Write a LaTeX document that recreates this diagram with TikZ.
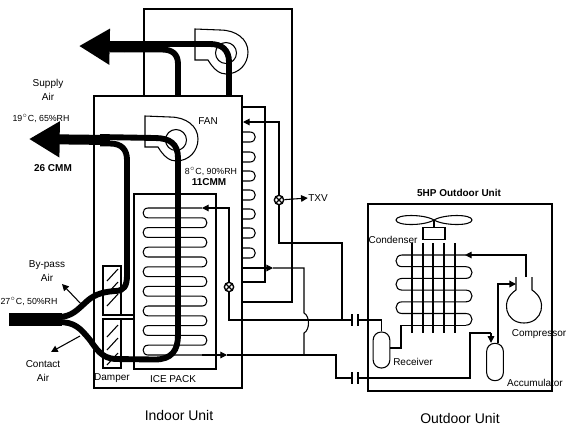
\documentclass[tikz,border=0pt]{standalone}
\usepackage{fontspec}
\setmainfont{Liberation Sans}
\usepackage{tikz}
\usetikzlibrary{arrows.meta}

\begin{document}
\begin{tikzpicture}[
  x=0.75pt, y=-0.75pt,
  line width=0.8pt,
  txt/.style={font=\fontsize{7.5}{10}\selectfont, inner sep=0pt, align=center},
  state/.style={font=\fontsize{6.6}{8}\selectfont, inner sep=0pt},
  strong/.style={font=\fontsize{7.5}{10}\bfseries\selectfont, inner sep=0pt, align=center},
  unit/.style={font=\fontsize{10.5}{12}\selectfont, inner sep=0pt},
  duct/.style={line width=4.4pt},
  mainduct/.style={line width=7.5pt, -{Triangle[length=23pt,width=25.5pt]}},
  flow/.style={-{Triangle[length=5pt,width=5pt]}},
  valve/.style={circle, draw, fill=white, inner sep=0pt, minimum size=7pt, line width=1pt,
    path picture={\draw (path picture bounding box.north west) -- (path picture bounding box.south east)
      (path picture bounding box.north east) -- (path picture bounding box.south west);}},
  tank/.style={draw, rounded corners=6pt, inner sep=0pt, minimum width=12.5pt},
  coupler/.style={inner sep=0pt, outer sep=0pt, minimum width=4.5pt, minimum height=9pt},
  fan/.pic={
    \draw (-31,-24) -- (-31,7) -- (-18,7) .. controls (-12,17) and (-6,21) .. (0,21)
      .. controls (13,21) and (22,11) .. (22,-1) .. controls (22,-14) and (10,-23) .. (-6,-23) -- cycle;
    \draw (0,0) circle (10.5);
  }
]
\useasboundingbox (0,0) rectangle (566,426);

% Housings
\draw (144,96) -- (144,9) -- (292,9) -- (292,302) -- (242,302);
\draw (94,96) rectangle (242,388);
\draw (243,107) -- (265,107) -- (265,282) -- (243,282);
\draw (134,194) rectangle (216,369);
\draw (368,204) rectangle (552,391);

% Dampers
\draw (103,266) rectangle (121,315);
\draw (103,319) rectangle (121,368);
\draw (121,315) -- (134,315);
\draw (121,319) -- (134,319);
\foreach \hy in {281,294,306,337,350,365} {
  \draw (107,\hy) -- (118,\hy-12);
}

% Fans
\pic at (226,53) {fan};
\pic at (176,140) {fan};

% Valves and tanks
\node[valve] (V1) at (279,200) {};
\node[valve] (V2) at (229,287) {};
\node[tank, minimum height=27pt] (Receiver) at (381.5,350) {};
\node[tank, minimum height=28pt] (Accumulator) at (495,362) {};
\node[coupler] (F1) at (355,320) {};
\node[coupler] (F2) at (355,378) {};
\draw (F1.north west) -- (F1.south west);
\draw (F1.north east) -- (F1.south east);
\draw (F2.north west) -- (F2.south west);
\draw (F2.north east) -- (F2.south east);

% Coil on the side of the indoor unit
\foreach \cy in {132,152,171,190,209,228,248} {
  \draw (243,\cy) -- (250,\cy) .. controls (257,\cy) and (257,\cy+10) .. (250,\cy+10) -- (243,\cy+10);
}
\coordinate (SideIn) at (243,122);
\coordinate (SideOut) at (243,268);

% Ice pack coil
\foreach \r in {0,...,7} {
  \draw (202,208+19.6*\r) -- (148,208+19.6*\r) .. controls (141.5,208+19.6*\r) and (141.5,217.8+19.6*\r) .. (148,217.8+19.6*\r) -- (202,217.8+19.6*\r);
}
\foreach \r in {0,...,6} {
  \draw (202,217.8+19.6*\r) .. controls (208.5,217.8+19.6*\r) and (208.5,227.6+19.6*\r) .. (202,227.6+19.6*\r);
}
\coordinate (IceIn) at (202,208);
\coordinate (IceOut) at (202,355);

% Outdoor fan
\draw (434,220) .. controls (424,214) and (396,214) .. (396,220) .. controls (396,226) and (424,226) .. (434,220);
\draw (434,220) .. controls (444,214) and (472,214) .. (472,220) .. controls (472,226) and (444,226) .. (434,220);
\node[draw, inner sep=0pt, minimum width=16.5pt, minimum height=9.5pt] (Motor) at (434,233.5) {};
\draw (434,220) -- (Motor.north);

% Condenser
\foreach \gx in {412,423,433,444,455} {
  \draw (\gx,243) -- (\gx,333);
}
\foreach \r in {0,1,2} {
  \draw (466,255+23.4*\r) -- (402,255+23.4*\r) .. controls (394,255+23.4*\r) and (394,266.7+23.4*\r) .. (402,266.7+23.4*\r) -- (466,266.7+23.4*\r)
    .. controls (474,266.7+23.4*\r) and (474,278.4+23.4*\r) .. (466,278.4+23.4*\r);
}
\coordinate (CondIn) at (465,255);
\coordinate (CondOut) at (466,325.2);

% Compressor
\draw (516,277) -- (516,290) .. controls (500,300) and (505,323) .. (524,323)
  .. controls (543,323) and (548,300) .. (532,290) -- (532,277);
\coordinate (CompOut) at (526,277);
\coordinate (CompIn) at (516,284);

% Refrigerant piping, indoor side
\draw[flow] (V1) |- (SideIn);
\draw (V1) |- (342,243) -- (342,320);
\draw[flow] (SideOut) -- (273,268);
\draw (273,268) -- (304,268) -- (304,313) .. controls (310,316) and (310,330) .. (304,333) -- (304,355);
\draw[flow] (V2) |- (IceIn);
\draw (V2) |- (F1.west);
\draw[flow] (IceOut) -- (227,355);
\draw (227,355) -- (336,355) |- (F2.west);

% Refrigerant piping, outdoor side
\draw (F1.east) -| (Receiver.north);
\draw (Receiver.east |- 0,348) -- (401,348) -- (401,325.2) -- (CondOut);
\draw[flow] (CompOut) |- (CondIn);
\draw (F2.east) -- (470,378) -- (470,333) -- (491,333);
\draw[flow] (491,333) -- (Accumulator.north -| 491,0);
\draw[flow, line width=1pt] (Accumulator.north -| 498,0) |- (CompIn);

% TXV pointer
\node[txt] (TXV) at (318,198) {TXV};
\draw[flow] (V1) -- (TXV.west);

% Air arrows
\coordinate (ByPassTip) at (62,284);
\coordinate (ByPassEnd) at (82,305);
\coordinate (ContactTip) at (51,352);
\coordinate (ContactEnd) at (80,336);
\draw[flow] (ByPassEnd) -- (ByPassTip);
\draw[flow] (ContactEnd) -- (ContactTip);

% Air ducts
\draw[line width=9.5pt] (9,319.5) -- (62,319.5);
\draw[duct] (58,322) .. controls (75,322) and (80,328) .. (90,340) .. controls (97,350) and (102,358) .. (115,359)
  -- (155,359.5) .. controls (172,359.5) and (178,350) .. (178,335) -- (178,158)
  .. controls (178,144) and (170,138) .. (155,138) -- (100,137);
\draw[duct] (58,317) .. controls (72,317) and (78,309) .. (85,303) .. controls (92,296) and (100,292) .. (115,291)
  .. controls (124,291) and (127,286) .. (127,275) -- (127,160) .. controls (127,150) and (122,143.5) .. (110,143.5) -- (100,143.5);
\draw[mainduct] (110,140) -- (29,139);
\draw[duct] (229,96) -- (229,62) .. controls (229,50) and (222,44) .. (210,44) -- (110,44);
\draw[duct] (178,96) -- (178,64) .. controls (178,54) and (172,49.5) .. (162,49.5) -- (110,49.5);
\draw[mainduct] (125,47) -- (79,46);

% Labels
\node[txt] (SupplyAir) at (48,90) {Supply\\Air};
\node[state] (SupplyState) at (41,118) {19$^{\circ}$C, 65\%RH};
\node[strong] (SupplyFlow) at (53,168) {26 CMM};
\node[txt] (FanLabel) at (208,121) {FAN};
\node[state] (CoilState) at (211,171) {8$^{\circ}$C, 90\%RH};
\node[strong] (CoilFlow) at (209,182) {11CMM};
\node[txt] (ByPass) at (47,271) {By-pass\\Air};
\node[state] (InletState) at (29,301) {27$^{\circ}$C, 50\%RH};
\node[txt] (Contact) at (43,371) {Contact\\Air};
\node[txt] (DamperLabel) at (112,378) {Damper};
\node[txt] (IcePack) at (173,379) {ICE PACK};
\node[unit] (Indoor) at (179,415) {Indoor Unit};
\node[unit] (Outdoor) at (460,418) {Outdoor Unit};
\node[strong] (OutdoorTitle) at (459,193) {5HP Outdoor Unit};
\node[txt] (Condenser) at (393,240) {Condenser};
\node[txt] (Compressor) at (539,334) {Compressor};
\node[txt] (ReceiverLabel) at (413,362) {Receiver};
\node[txt] (AccumulatorLabel) at (535,383) {Accumulator};

\end{tikzpicture}
\end{document}
